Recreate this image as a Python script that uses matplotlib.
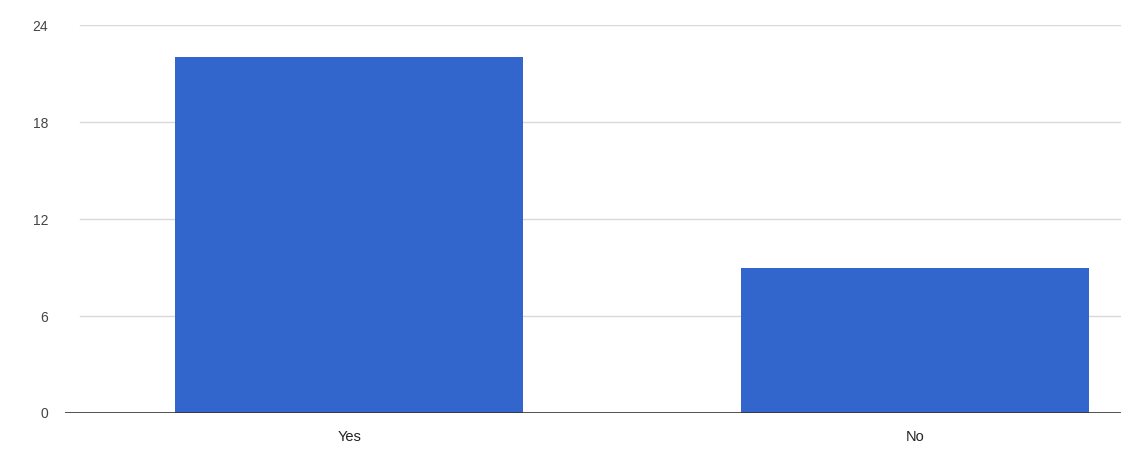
import matplotlib.pyplot as plt

categories = ["Yes", "No"]
counts = [22, 9]
y_ticks = [0, 6, 12, 18, 24]

plt.rcParams["font.family"] = ["Liberation Sans", "DejaVu Sans"]

fig = plt.figure(figsize=(11.21, 4.54), dpi=100)
ax = fig.add_axes([65 / 1121, 41 / 454, 1056 / 1121, 388 / 454])

positions = list(range(len(categories)))
ax.bar(positions, counts, width=0.615, color="#3366cc", zorder=3)

ax.set_xlim(-0.502, 1.364)
ax.set_ylim(0, 24)
ax.set_yticks(y_ticks)
ax.set_yticklabels([str(t) for t in y_ticks])
ax.set_xticks(positions)
ax.set_xticklabels(categories)

for t in y_ticks[1:]:
    ax.axhline(t, xmin=15 / 1056, color="#d9d9d9", linewidth=1, zorder=1)
ax.axhline(0, color="#333333", linewidth=1.2, zorder=4)

for side in ["top", "right", "left", "bottom"]:
    ax.spines[side].set_visible(False)

ax.tick_params(axis="y", length=0, pad=12, labelsize=10, labelcolor="#444444")
ax.tick_params(axis="x", length=0, pad=12, labelsize=10.5, labelcolor="#222222")

fig.savefig("out.png", dpi=100)
